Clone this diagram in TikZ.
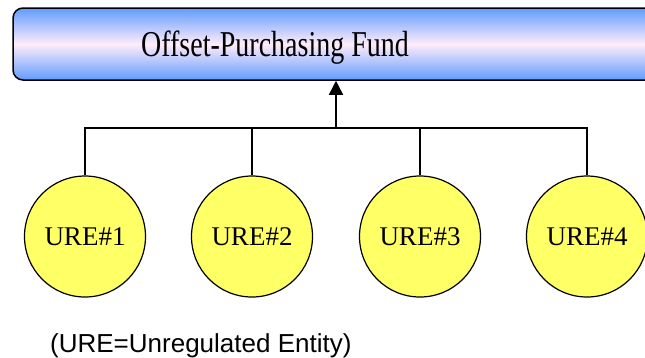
\documentclass[tikz,border=0pt]{standalone}
\usepackage{fontspec}
\setmainfont{Liberation Serif}
\newfontfamily\labelsans{Liberation Sans}
\usetikzlibrary{arrows.meta}

\definecolor{fundblue}{RGB}{96,156,255}
\definecolor{fundpink}{RGB}{255,236,250}
\definecolor{urefill}{RGB}{255,255,102}

\tikzset{
  fundbox/.style={draw=black, line width=1.5pt, rounded corners=10pt,
    top color=fundblue, bottom color=fundblue, middle color=fundpink,
    minimum width=652pt, minimum height=72pt, inner sep=0pt},
  fundtext/.style={font=\fontsize{28}{32}\selectfont, inner sep=0pt, yscale=1.3},
  ure/.style={circle, draw=black, line width=1.2pt, fill=urefill,
    minimum size=121pt, inner sep=0pt, font=\fontsize{27}{30}\selectfont},
  link/.style={draw=black, line width=1.4pt},
  uparrow/.style={link, -{Triangle[width=14pt,length=14pt]}},
  notetext/.style={font=\labelsans\fontsize{26}{30}\selectfont, inner sep=0pt}
}

\begin{document}
\begin{tikzpicture}[x=1pt, y=-1pt]
  \useasboundingbox (0,0) rectangle (645,357);

  % top box
  \node[fundbox] (fund) at (339,44) {};
  \node[fundtext, anchor=base] (fundlabel) at (275,56.5) {Offset-Purchasing Fund};

  % entities
  \node[ure] (u1) at (85,236.5) {URE\#1};
  \node[ure] (u2) at (252,236.5) {URE\#2};
  \node[ure] (u3) at (420,236.5) {URE\#3};
  \node[ure] (u4) at (587,236.5) {URE\#4};

  % bus joining the entities
  \coordinate (hub) at (336,128);
  \draw[link] (u1.north) |- (hub);
  \draw[link] (u2.north) |- (hub);
  \draw[link] (u3.north) |- (hub);
  \draw[link] (u4.north) |- (hub);
  \draw[uparrow] (hub) -- (hub |- fund.south);

  % legend
  \node[notetext, anchor=base west] (note) at (50,352) {(URE=Unregulated Entity)};
\end{tikzpicture}
\end{document}
